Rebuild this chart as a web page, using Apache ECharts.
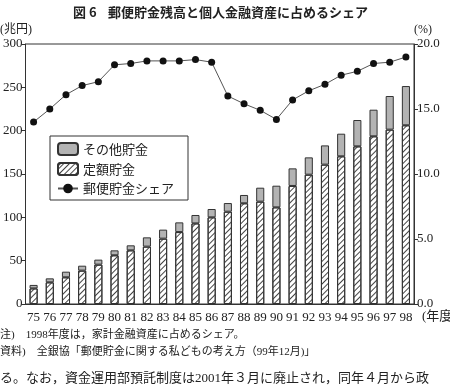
<!DOCTYPE html>
<html>
<head>
<meta charset="utf-8">
<title>郵便貯金残高と個人金融資産に占めるシェア</title>
<script src="https://cdn.jsdelivr.net/npm/echarts@6/dist/echarts.min.js"></script>
<style>
  html, body { margin: 0; padding: 0; background: #fff; }
  #chart { width: 450px; height: 388px; }
</style>
</head>
<body>
<div id="chart"></div>
<script>
// 年度 (75 = 1975)
const years = ['75', '76', '77', '78', '79', '80', '81', '82', '83', '84', '85', '86',
  '87', '88', '89', '90', '91', '92', '93', '94', '95', '96', '97', '98']
// 定額貯金 (兆円)
const teigaku = [18, 25, 30.8, 38.5, 45.4, 56.2, 61.9, 66.2, 75.4, 83, 93, 100,
  106.5, 116.2, 118.1, 111.5, 136.2, 149.2, 160.8, 170.4, 181.9, 193.5, 201.2, 206.2]
// その他貯金 (兆円)
const sonota = [4, 4.6, 6.5, 5.7, 5.8, 5.7, 5.8, 10.7, 10.4, 11.2, 9.7, 9.6,
  10, 9.6, 16.1, 25, 20.3, 20, 22.2, 26.1, 30.4, 30.7, 38.8, 45.3]
// 郵便貯金シェア (%)
const share = [14.0, 15.0, 16.1, 16.8, 17.1, 18.4, 18.5, 18.7, 18.7, 18.7, 18.8, 18.6,
  16.0, 15.4, 14.9, 14.2, 15.7, 16.4, 16.9, 17.6, 17.9, 18.5, 18.6, 19.0]

const serif = "'Liberation Serif', 'Noto Sans CJK JP', serif"
const gothic = "'Noto Sans CJK JP', sans-serif"
const ink = '#333'

const chart = echarts.init(document.getElementById('chart'), null, { renderer: 'canvas' })

chart.setOption({
  animation: false,
  backgroundColor: '#fff',
  grid: { left: 23, right: 36, top: 44, bottom: 84, show: true, borderColor: ink, borderWidth: 1 },
  legend: {
    orient: 'vertical',
    left: 50,
    top: 136,
    width: 125,
    padding: [6, 14, 5, 7],
    itemGap: 6,
    itemWidth: 20,
    itemHeight: 12,
    borderColor: ink,
    borderWidth: 1,
    textStyle: { fontFamily: gothic, fontSize: 13, color: '#222' },
    data: ['その他貯金', '定額貯金', '郵便貯金シェア']
  },
  xAxis: {
    type: 'category',
    data: years,
    axisLine: { lineStyle: { color: ink } },
    axisTick: { inside: true, length: 4, interval: 0, lineStyle: { color: ink } },
    axisLabel: { interval: 0, margin: 7, fontFamily: serif, fontSize: 13, color: '#222' }
  },
  yAxis: [
    {
      type: 'value',
      min: 0,
      max: 300,
      interval: 50,
      axisLine: { show: true, lineStyle: { color: ink } },
      axisTick: { show: true, length: 4, lineStyle: { color: ink } },
      axisLabel: { margin: 3, fontFamily: serif, fontSize: 13, color: '#222' },
      splitLine: { show: false }
    },
    {
      type: 'value',
      min: 0,
      max: 20,
      interval: 5,
      axisLine: { show: true, lineStyle: { color: ink } },
      axisTick: { show: true, length: 4, lineStyle: { color: ink } },
      axisLabel: {
        margin: 3,
        fontFamily: serif,
        fontSize: 13,
        color: '#222',
        formatter: v => v.toFixed(1)
      },
      splitLine: { show: false }
    }
  ],
  series: [
    {
      name: '定額貯金',
      type: 'bar',
      stack: 'chokin',
      data: teigaku,
      barWidth: '50%',
      itemStyle: {
        color: '#fff',
        borderColor: ink,
        borderWidth: 1,
        // 斜線 "///"
        decal: {
          symbol: 'rect',
          symbolSize: 1,
          color: '#444',
          dashArrayX: [1, 0],
          dashArrayY: [1, 3],
          rotation: -Math.PI / 4
        }
      }
    },
    {
      name: 'その他貯金',
      type: 'bar',
      stack: 'chokin',
      data: sonota,
      barWidth: '50%',
      itemStyle: { color: '#b3b3b3', borderColor: ink, borderWidth: 1 }
    },
    {
      name: '郵便貯金シェア',
      type: 'line',
      yAxisIndex: 1,
      data: share,
      symbol: 'circle',
      symbolSize: 7,
      lineStyle: { color: '#555', width: 1 },
      itemStyle: { color: '#111' }
    }
  ],
  graphic: [
    { type: 'text', left: 73, top: 6, style: { text: '図 6', font: 'bold 13px ' + gothic, fill: '#222' } },
    {
      type: 'text', left: 108, top: 6,
      style: { text: '郵便貯金残高と個人金融資産に占めるシェア', font: 'bold 13px ' + gothic, fill: '#222' }
    },
    { type: 'text', left: 0, top: 24, style: { text: '(兆円)', font: '12px ' + serif, fill: '#222' } },
    { type: 'text', left: 414, top: 24, style: { text: '(%)', font: '12px ' + serif, fill: '#222' } },
    { type: 'text', left: 422, top: 310, style: { text: '(年度', font: '13px ' + serif, fill: '#222' } },
    {
      type: 'text', left: 0, top: 330,
      style: { text: '注)　1998年度は，家計金融資産に占めるシェア。', font: '11px ' + serif, fill: '#222' }
    },
    {
      type: 'text', left: 0, top: 347,
      style: { text: '資料)　全銀協「郵便貯金に関する私どもの考え方（99年12月)」', font: '11px ' + serif, fill: '#222' }
    },
    {
      type: 'text', left: 0, top: 372,
      style: { text: 'る。なお，資金運用部預託制度は2001年３月に廃止され，同年４月から政', font: '13px ' + serif, fill: '#222' }
    }
  ]
})
</script>
</body>
</html>
